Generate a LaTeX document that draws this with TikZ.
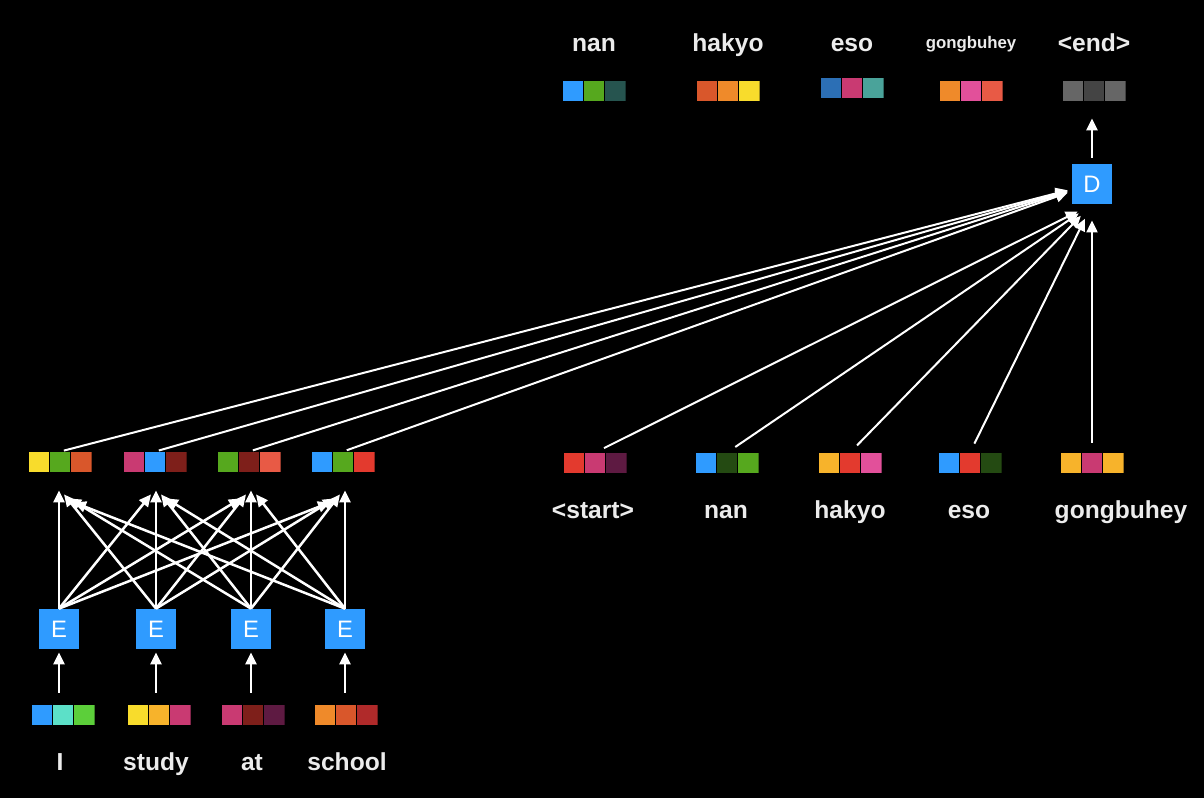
\documentclass[tikz,border=0pt]{standalone}
\usepackage{fontspec}
\setmainfont{Liberation Sans}
\usetikzlibrary{arrows.meta, positioning, calc}

\definecolor{cblue}{HTML}{2F9BFF}
\definecolor{cdblue}{HTML}{2C6FB5}
\definecolor{cteal}{HTML}{5CE0C8}
\definecolor{cdteal}{HTML}{26544F}
\definecolor{cmteal}{HTML}{4AA39A}
\definecolor{clgreen}{HTML}{5CCF3A}
\definecolor{cgreen}{HTML}{56A81E}
\definecolor{cdgreen}{HTML}{244A12}
\definecolor{cyellow}{HTML}{F8DC2C}
\definecolor{camber}{HTML}{F7B32B}
\definecolor{corange}{HTML}{EF8A2A}
\definecolor{crust}{HTML}{D9572B}
\definecolor{cbrick}{HTML}{B02A2A}
\definecolor{cred}{HTML}{E33A2E}
\definecolor{csalmon}{HTML}{E85A45}
\definecolor{cmaroon}{HTML}{7E1F1A}
\definecolor{cmagenta}{HTML}{C93A72}
\definecolor{cpink}{HTML}{E2509A}
\definecolor{cplum}{HTML}{5E1A42}
\definecolor{cgrey}{HTML}{666666}
\definecolor{cdgrey}{HTML}{444444}
\definecolor{txt}{HTML}{ECECEC}

\tikzset{
  vec/.style n args={3}{minimum width=31.5pt, minimum height=10pt, inner sep=0pt,
    path picture={
      \fill[#1] (path picture bounding box.south west) rectangle ++(10.5pt,10pt);
      \fill[#2] ([xshift=10.5pt]path picture bounding box.south west) rectangle ++(10.5pt,10pt);
      \fill[#3] ([xshift=21pt]path picture bounding box.south west) rectangle ++(10.5pt,10pt);
      \draw[black, line width=0.5pt] ([xshift=10.5pt]path picture bounding box.south west) -- ++(0,10pt)
        ([xshift=21pt]path picture bounding box.south west) -- ++(0,10pt);
    }},
  word/.style={text=txt, font=\bfseries\fontsize{12.3}{14}\selectfont, anchor=base, inner sep=0pt},
  smallword/.style={word, font=\bfseries\fontsize{8.4}{10}\selectfont},
  box/.style={fill=cblue, minimum size=20pt, inner sep=0pt, text=white,
    font=\fontsize{11.9}{12}\selectfont},
  arr/.style={draw=white, line width=1.25pt, -{Triangle[length=6pt,width=5.5pt]}},
  thinarr/.style={arr, line width=1pt}
}

\begin{document}
\begin{tikzpicture}[x=0.5pt, y=-0.5pt]
\fill[black] (0,0) rectangle (1204,798);
\useasboundingbox (0,0) rectangle (1204,798);

% source words
\node[word] (w1) at (60,770) {I};
\node[word] (w2) at (156,770) {study};
\node[word] (w3) at (252,770) {at};
\node[word] (w4) at (347,770) {school};

% source embeddings
\node[vec={cblue}{cteal}{clgreen}] (v1) at (63,715) {};
\node[vec={cyellow}{camber}{cmagenta}] (v2) at (159,715) {};
\node[vec={cmagenta}{cmaroon}{cplum}] (v3) at (253,715) {};
\node[vec={corange}{crust}{cbrick}] (v4) at (346,715) {};

% encoders
\node[box] (e1) at (59,629) {E};
\node[box] (e2) at (156,629) {E};
\node[box] (e3) at (251,629) {E};
\node[box] (e4) at (345,629) {E};

% encoder outputs
\node[vec={cyellow}{cgreen}{crust}] (o1) at (60,462) {};
\node[vec={cmagenta}{cblue}{cmaroon}] (o2) at (155,462) {};
\node[vec={cgreen}{cmaroon}{csalmon}] (o3) at (249,462) {};
\node[vec={cblue}{cgreen}{cred}] (o4) at (343,462) {};

\foreach \i in {1,...,4} {
  \draw[arr, shorten <=6pt, shorten >=1.5pt] (v\i.north -| e\i.south) -- (e\i);
  \foreach \j in {1,...,4}
    \draw[arr] (e\i.north) -- ($(e\j.north |- o\j.south)+({5*(\i-\j)},{18+4*abs(\i-\j)})$);
}

% decoder
\node[box] (d) at (1092,184) {D};

% decoder inputs
\node[vec={cred}{cmagenta}{cplum}] (i1) at (595,463) {};
\node[vec={cblue}{cdgreen}{cgreen}] (i2) at (727,463) {};
\node[vec={camber}{cred}{cpink}] (i3) at (850,463) {};
\node[vec={cblue}{cred}{cdgreen}] (i4) at (970,463) {};
\node[vec={camber}{cmagenta}{camber}] (i5) at (1092,463) {};
\node[word] (l1) at (593,518) {<start>};
\node[word] (l2) at (726,518) {nan};
\node[word] (l3) at (850,518) {hakyo};
\node[word] (l4) at (969,518) {eso};
\node[word] (l5) at (1121,518) {gongbuhey};

% decoder outputs
\node[vec={cblue}{cgreen}{cdteal}] (t1) at (594,91) {};
\node[vec={crust}{corange}{cyellow}] (t2) at (728,91) {};
\node[vec={cdblue}{cmagenta}{cmteal}] (t3) at (852,88) {};
\node[vec={corange}{cpink}{csalmon}] (t4) at (971,91) {};
\node[vec={cgrey}{cdgrey}{cgrey}] (t5) at (1094,91) {};
\node[word] (u1) at (594,51) {nan};
\node[word] (u2) at (728,51) {hakyo};
\node[word] (u3) at (852,51) {eso};
\node[smallword] (u4) at (971,48) {gongbuhey};
\node[word] (u5) at (1094,51) {<end>};

% attention into the decoder
\foreach \j in {1,...,4}
  \draw[thinarr, shorten <=2pt, shorten >=2pt] (o\j.north) -- (d);
\foreach \k in {1,...,5}
  \draw[thinarr, shorten <=5pt, shorten >=8pt] (i\k.north) -- (d.south);

\draw[arr, shorten <=3pt, shorten >=8.5pt] (d.north) -- (d.north |- t5.south);
\end{tikzpicture}
\end{document}
